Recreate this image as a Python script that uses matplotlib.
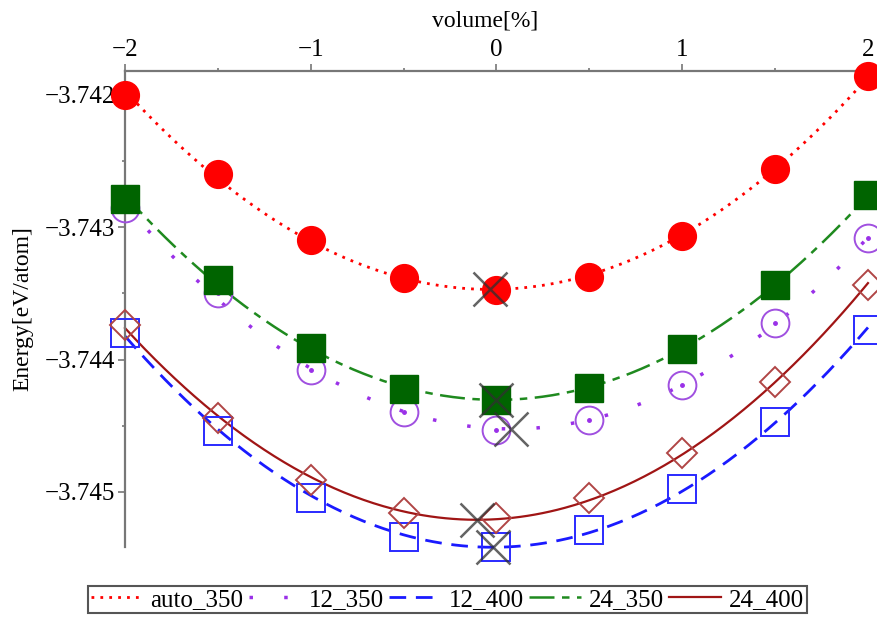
import numpy as np
import matplotlib
matplotlib.use("Agg")
import matplotlib.pyplot as plt
from matplotlib.ticker import MultipleLocator, FuncFormatter

plt.rcParams['font.family'] = ['Liberation Serif', 'DejaVu Serif']

# volume change in percent
volume = [-2, -1.5, -1, -0.5, 0, 0.5, 1, 1.5, 2]

# energies [eV/atom]
auto_350 = [-3.742000, -3.742597, -3.743096, -3.743383, -3.743474,
            -3.743376, -3.743066, -3.742559, -3.741856]
k12_350 = [-3.742854, -3.743497, -3.744079, -3.744396, -3.744532,
           -3.744457, -3.744192, -3.743723, -3.743081]
k12_400 = [-3.743799, -3.744540, -3.745046, -3.745341, -3.745416,
           -3.745288, -3.744978, -3.744472, -3.743776]
k24_350 = [-3.742786, -3.743398, -3.743912, -3.744222, -3.744305,
           -3.744215, -3.743920, -3.743436, -3.742756]
k24_400 = [-3.743738, -3.744441, -3.744910, -3.745159, -3.745197,
           -3.745046, -3.744706, -3.744169, -3.743436]

series = [
    # label, data, line colour, line style, width, marker, marker face, marker edge
    ("auto_350", auto_350, "#ff0000", (0, (1, 2.2)), 2.0, "o", "#ff0000", "#ff0000"),
    ("12_350", k12_350, "#9a30e8", (0, (1, 9)), 2.5, "o", "none", "#a050e0"),
    ("12_400", k12_400, "#1a1aff", (0, (6, 3.5)), 2.0, "s", "none", "#2a2aff"),
    ("24_350", k24_350, "#1f8a1f", (0, (10, 3, 3, 3)), 1.8, "s", "#006400", "#006400"),
    ("24_400", k24_400, "#a01515", "-", 1.6, "D", "none", "#b04545"),
]

fig = plt.figure(figsize=(8.77, 6.17), dpi=100)
ax = fig.add_axes([0.1425, 0.1135, 0.8472, 0.7714])

xs = np.linspace(-2, 2, 300)
lines = []
for label, data, lc, ls, lw, mk, mf, me in series:
    coef = np.polyfit(volume, data, 2)
    fit = np.polyval(coef, xs)
    ln, = ax.plot(xs, fit, color=lc, linestyle=ls, linewidth=lw, label=label,
                  clip_on=False, zorder=2)
    lines.append(ln)
    ms = 20 if mk != "D" else 15
    mew = 1.4 if mf == "none" else 1
    ax.plot(volume, data, linestyle="none", marker=mk, markersize=ms,
            markerfacecolor=mf, markeredgecolor=me, markeredgewidth=mew,
            clip_on=False, zorder=3 if mf == "none" else 4)
    if label == "12_350":
        ax.plot(volume, data, linestyle="none", marker="o", markersize=2.5,
                color="#9a30e8", clip_on=False, zorder=3)
    # minimum of the fit
    xmin = -coef[1] / (2 * coef[0])
    ax.plot([xmin], [np.polyval(coef, xmin)], marker="x", markersize=25,
            markeredgewidth=1.8, color="#303030", alpha=0.75, linestyle="none",
            clip_on=False, zorder=6)

ax.set_xlim(-2, 2)
ax.set_ylim(-3.745416, -3.74182)

for s in ["bottom", "right"]:
    ax.spines[s].set_visible(False)
for s in ["top", "left"]:
    ax.spines[s].set_color("#777777")
    ax.spines[s].set_linewidth(1.6)

ax.xaxis.tick_top()
ax.xaxis.set_label_position("top")
ax.xaxis.set_major_locator(MultipleLocator(1))
ax.xaxis.set_minor_locator(MultipleLocator(0.5))
ax.yaxis.set_major_locator(MultipleLocator(0.001))
ax.yaxis.set_minor_locator(MultipleLocator(0.0005))
ax.yaxis.set_major_formatter(FuncFormatter(lambda v, p: f"{v:.3f}".replace("-", "\u2212")))
ax.tick_params(which="major", length=5, width=1.2, color="#777777",
               labelsize=18, pad=2)
ax.tick_params(which="minor", length=2.5, width=1.2, color="#777777")

ax.set_xlabel("volume[%]", fontsize=17)
ax.xaxis.set_label_coords(0.485, 1.082)
ax.xaxis.label.set_verticalalignment("bottom")
ax.set_ylabel("Energy[eV/atom]", fontsize=17, labelpad=8)

leg = fig.legend(handles=lines, loc="center", bbox_to_anchor=(0.510, 0.028),
                 ncol=5, fontsize=18, handlelength=2.1, handletextpad=0.3,
                 columnspacing=0.2, borderpad=0.1, fancybox=False,
                 framealpha=1)
leg.get_frame().set_edgecolor("#555555")
leg.get_frame().set_linewidth(1.5)

fig.savefig("out.png", dpi=100)
